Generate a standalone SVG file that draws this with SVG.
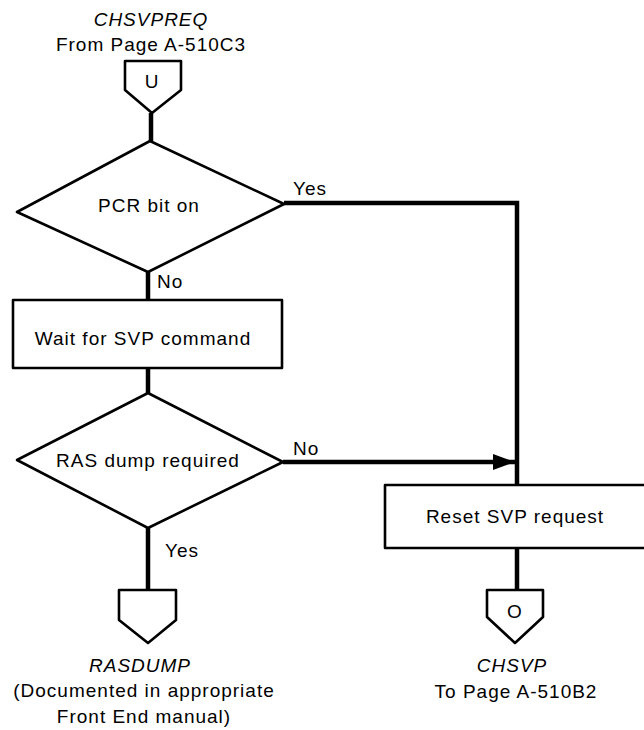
<svg xmlns="http://www.w3.org/2000/svg" width="644" height="730" viewBox="0 0 644 730">
  <defs>
    <style>
      .shape { fill: #fff; stroke: #000; stroke-width: 2.6; stroke-linejoin: round; }
      .flow { fill: none; stroke: #000; stroke-width: 4.5; stroke-linejoin: miter; }
      text { font-family: "Liberation Sans", Arial, Helvetica, sans-serif; font-size: 19px; letter-spacing: 1px; fill: #000; }
      .mid { text-anchor: middle; }
      .ital { font-style: italic; }
    </style>
    <marker id="arrow" markerUnits="userSpaceOnUse" markerWidth="24" markerHeight="16" refX="22" refY="8" orient="auto">
      <path d="M0,0 L22,8 L0,16 Z" fill="#000"/>
    </marker>
  </defs>

  <!-- connectors -->
  <g id="connectors">
    <path class="flow" d="M151,113 V141"/>
    <path class="flow" d="M148,272 V300"/>
    <path class="flow" d="M148,368 V393"/>
    <path class="flow" d="M148,528 V590"/>
    <path class="flow" d="M284,203 H517 V485"/>
    <path class="flow" d="M283,462 H515" marker-end="url(#arrow)"/>
    <path class="flow" d="M517,548 V590"/>
    <text x="293" y="195">Yes</text>
    <text x="157" y="288">No</text>
    <text x="293" y="455">No</text>
    <text x="165" y="557">Yes</text>
  </g>

  <!-- entry connector U -->
  <g id="entry-u">
    <text class="mid ital" x="151" y="26">CHSVPREQ</text>
    <text class="mid" x="151" y="51">From Page A-510C3</text>
    <path class="shape" d="M125,61 H181 V90 L152,113 L125,90 Z"/>
    <text class="mid" x="152" y="88" letter-spacing="0">U</text>
  </g>

  <!-- decision: PCR bit on -->
  <g id="pcr-bit">
    <path class="shape" d="M150,141 L284,204 L148,272 L17,212 Z"/>
    <text class="mid" x="149" y="212">PCR bit on</text>
  </g>

  <!-- process: wait for SVP command -->
  <g id="wait-svp">
    <rect class="shape" x="13" y="300" width="269" height="68"/>
    <text class="mid" x="143" y="345">Wait for SVP command</text>
  </g>

  <!-- decision: RAS dump required -->
  <g id="ras-dump">
    <path class="shape" d="M148,393 L283,462 L148,528 L17,460 Z"/>
    <text class="mid" x="148" y="467">RAS dump required</text>
  </g>

  <!-- process: reset SVP request -->
  <g id="reset-svp">
    <rect class="shape" x="385" y="485" width="270" height="63"/>
    <text class="mid" x="515" y="523">Reset SVP request</text>
  </g>

  <!-- exit connector to RASDUMP -->
  <g id="exit-rasdump">
    <path class="shape" d="M119,590 H176 V620 L148,643 L119,620 Z"/>
    <text class="mid ital" x="140" y="672">RASDUMP</text>
    <text class="mid" x="144" y="697">(Documented in appropriate</text>
    <text class="mid" x="144" y="723">Front End manual)</text>
  </g>

  <!-- exit connector O -->
  <g id="exit-o">
    <path class="shape" d="M487,590 H543 V617 L515,643 L487,617 Z"/>
    <text class="mid" x="515" y="618" letter-spacing="0">O</text>
    <text class="mid ital" x="512" y="672">CHSVP</text>
    <text class="mid" x="516" y="698">To Page A-510B2</text>
  </g>
</svg>
